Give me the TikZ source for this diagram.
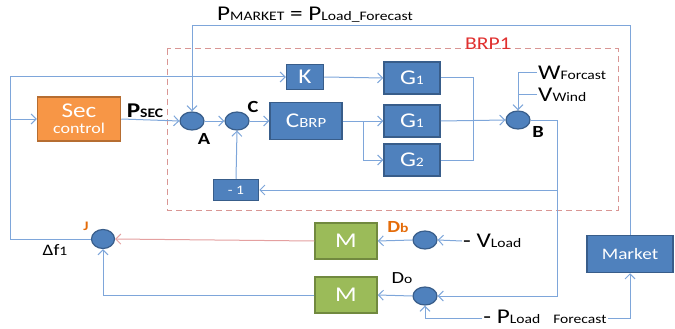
\documentclass[tikz,border=0pt]{standalone}
\usepackage{fontspec}
\setmainfont{Carlito}[FakeStretch=1.2]
\usetikzlibrary{arrows.meta, shapes.geometric}
\definecolor{boxblue}{HTML}{4F81BD}
\definecolor{boxline}{HTML}{385D8A}
\definecolor{secorange}{HTML}{F79646}
\definecolor{secline}{HTML}{B66D31}
\definecolor{mgreen}{HTML}{9BBB59}
\definecolor{mline}{HTML}{71893F}
\definecolor{wire}{HTML}{7EA6DA}
\definecolor{redwire}{HTML}{E4A0A0}
\definecolor{brpred}{HTML}{D99694}
\definecolor{brptext}{HTML}{E0302F}
\definecolor{lblorange}{HTML}{E46C0A}
\newcommand{\bigtxt}{\fontsize{21}{22}\selectfont}
\newcommand{\sm}[1]{{\fontsize{13}{13}\selectfont #1}}

\begin{document}
\begin{tikzpicture}[
  x=1pt, y=-1pt,
  font=\bigtxt,
  blk/.style={rectangle, draw=boxline, line width=1.5pt, fill=boxblue, text=white,
              minimum width=56pt, minimum height=32pt, inner sep=0pt},
  sumc/.style={ellipse, draw=boxline, line width=1.2pt, fill=boxblue,
               minimum width=24pt, minimum height=18pt, inner sep=0pt},
  lbl/.style={inner sep=1pt, text=black},
  arr/.style={-{Straight Barb[length=5pt, width=10pt]}, wire, line width=1pt},
  wireline/.style={wire, line width=1pt},
]
  \useasboundingbox (0,0) rectangle (675,329);

  % BRP1 frame
  \draw[brpred, line width=1pt, dash pattern=on 6pt off 4pt] (167,49) rectangle (618,210);
  \node[text=brptext, font=\fontsize{18}{18}\selectfont] (brp) at (488,44) {BRP1};

  % blocks
  \node[blk, fill=secorange, draw=secline, minimum width=83pt, minimum height=44pt,
        align=center] (sec) at (79,119) {Sec\\[-6pt]{\fontsize{15}{15}\selectfont control}};
  \node[sumc] (A) at (192,121) {};
  \node[sumc] (C) at (237,121) {};
  \node[blk, minimum width=72pt, minimum height=37pt] (cbrp) at (306,121) {C{\fontsize{14}{14}\selectfont BRP}};
  \node[blk, minimum width=37pt, minimum height=25pt] (K) at (305,77) {K};
  \node[blk] (g1a) at (412,78) {G\sm{1}};
  \node[blk] (g1b) at (412,121) {G\sm{1}};
  \node[blk] (g2) at (412,160) {G\sm{2}};
  \node[sumc] (B) at (518,120) {};
  \node[blk, minimum width=45pt, minimum height=21pt] (neg) at (236,190) {\sm{- 1}};
  \node[blk, minimum width=86pt, minimum height=37pt] (market) at (630,254) {\fontsize{16}{16}\selectfont Market};
  \node[blk, fill=mgreen, draw=mline, minimum width=62pt, minimum height=36pt] (mb) at (346,241) {M};
  \node[blk, fill=mgreen, draw=mline, minimum width=62pt, minimum height=36pt] (mo) at (346,295) {M};
  \node[sumc] (db) at (425,240) {};
  \node[sumc] (do) at (425,296) {};
  \node[sumc, minimum width=23pt, minimum height=19pt] (J) at (103,239) {};

  % labels
  \node[lbl, anchor=base] (title) at (315,21) {P\sm{MARKET} = P\sm{Load\_Forecast}};
  \node[lbl, font=\bigtxt\bfseries] (psec) at (145,111) {P\sm{SEC}};
  \node[lbl, font=\fontsize{17}{17}\selectfont\bfseries] (la) at (204,139) {A};
  \node[lbl, font=\fontsize{17}{17}\selectfont\bfseries] (lc) at (253,107) {C};
  \node[lbl, font=\fontsize{17}{17}\selectfont\bfseries] (lb) at (538,132) {B};
  \node[lbl, anchor=west] (wf) at (537,73) {W\sm{Forcast}};
  \node[lbl, anchor=west] (vw) at (537,95) {V\sm{Wind}};
  \node[lbl, font=\fontsize{16}{16}\selectfont] (df) at (55,250) {Δf\sm{1}};
  \node[lbl, text=lblorange, font=\fontsize{13}{13}\selectfont\bfseries] (lj) at (86,226) {J};
  \node[lbl, text=lblorange, font=\fontsize{17}{17}\selectfont\bfseries] (ldb) at (398,227) {D\sm{b}};
  \node[lbl, font=\fontsize{17}{17}\selectfont] (ldo) at (402,278) {D\sm{o}};
  \node[lbl, anchor=west] (vload) at (462,241) {- V\sm{Load}};
  \node[lbl, anchor=base] (pload) at (545,323) {- P\sm{Load\quad Forecast}};

  % helper points
  \coordinate (lft) at (10,239);
  \coordinate (lk) at (10,77);
  \coordinate (ls) at (10,119);
  \coordinate (split) at (363,121);
  \coordinate (gr) at (473,78);
  \coordinate (wtop) at (518,73);
  \coordinate (bout) at (557,120);
  \coordinate (fb) at (557,190);
  \coordinate (top) at (630,26);
  \coordinate (pl) at (425,318);

  % connectors
  \draw[wireline] (J.west) -- (lft) -- (lk);
  \draw[arr] (lk) -- (K.west);
  \draw[arr] (ls) -- (sec.west);
  \draw[arr] (sec.east) -- (A.west);
  \draw[arr] (A.east) -- (C.west);
  \draw[arr] (C.east) -- (cbrp.west);
  \draw[wireline] (cbrp.east) -- (split);
  \draw[arr] (split) -- (g1b.west);
  \draw[arr] (split) |- (g2.west);
  \draw[arr] (K.east) -- (g1a.west);
  \draw[wireline] (g1a.east) -- (gr) |- (g2.east);
  \draw[arr] (g1b.east) -- (B.west);
  \draw[wireline] (wf.west) -- (wtop);
  \draw[wireline] (vw.west) -- (vw.west -| wtop);
  \draw[arr] (wtop) -- (B.north);
  \draw[wireline] (B.east) -- (bout) -- (fb);
  \draw[arr] (fb) |- (do.east);
  \draw[arr] (fb) -- (neg.east);
  \draw[arr] (neg.north) -- (C.south);
  \draw[arr] (market.north) -- (top) -| (A.north);
  \draw[wireline] (pload.west |- pl) -- (pl);
  \draw[arr] (pl) -- (do.south);
  \draw[arr] (pload.east |- pl) -| (market.south);
  \draw[arr] (vload.west) -- (db.east);
  \draw[arr] (db.west) -- (mb.east);
  \draw[arr] (do.west) -- (mo.east);
  \draw[arr, redwire] (mb.west) -- (J.east);
  \draw[arr] (mo.west) -| (J.south);
\end{tikzpicture}
\end{document}
